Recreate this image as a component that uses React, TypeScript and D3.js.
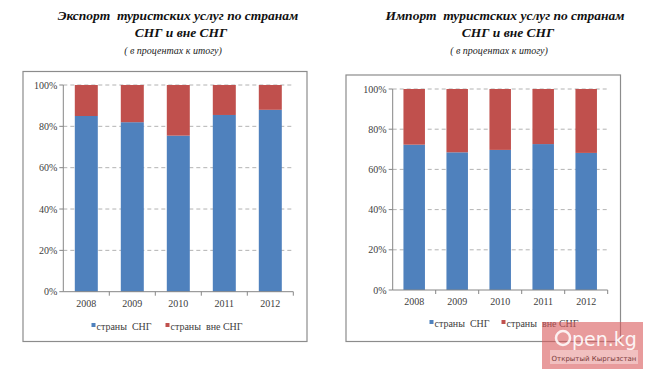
import React from "react";
import * as d3 from "d3";

const years = ["2008", "2009", "2010", "2011", "2012"];
const exportCIS = [85, 82, 75.5, 85.5, 88];
const exportNonCIS = [15, 18, 24.5, 14.5, 12];
const importCIS = [72.3, 68.5, 69.7, 72.6, 68.2];
const importNonCIS = [27.7, 31.5, 30.3, 27.4, 31.8];
const yTicks = [0, 20, 40, 60, 80, 100];
const seriesNames = ["страны  СНГ", "страны  вне СНГ"];
const colors = ["#4F81BD", "#C0504D"];

type PanelProps = {
  box: [number, number, number, number];
  plot: [number, number, number, number];
  title1: string;
  title2: string;
  sub: string;
  titleX: number;
  subX: number;
  cis: number[];
  non: number[];
  legendX: number;
  legendY: number;
  legendGap: number;
};

const serif = "Liberation Serif, Times New Roman, DejaVu Serif, serif";
const pre: React.CSSProperties = { whiteSpace: "pre" };

function Panel(p: PanelProps) {
  const [px0, py0, px1, py1] = p.plot;
  const x = d3.scaleBand<string>().domain(years).range([px0, px1]).paddingInner(0.5).paddingOuter(0.25);
  const y = d3.scaleLinear().domain([0, 100]).range([py1, py0]);
  const stackData = years.map((yr, i) => ({ year: yr, a: p.cis[i], b: p.non[i] }));
  const stack = d3.stack<any>().keys(["a", "b"])(stackData);
  const step = x.step();
  return (
    <g>
      <text x={p.titleX} y={20} textAnchor="middle" style={pre} fontFamily={serif} fontWeight="bold" fontStyle="italic" fontSize={13.5} fill="#111">{p.title1}</text>
      <text x={p.titleX + 3} y={37} textAnchor="middle" fontFamily={serif} fontWeight="bold" fontStyle="italic" fontSize={13.5} fill="#111">{p.title2}</text>
      <text x={p.subX} y={54} textAnchor="middle" fontFamily={serif} fontStyle="italic" fontSize={10} fill="#222">{p.sub}</text>
      <rect x={p.box[0]} y={p.box[1]} width={p.box[2] - p.box[0]} height={p.box[3] - p.box[1]} fill="white" stroke="#8c8c8c" strokeWidth={1.2} />
      {yTicks.map((t) => (
        <g key={t}>
          {t > 0 && (
            <line x1={px0} x2={px1} y1={y(t)} y2={y(t)} stroke="#a0a0a0" strokeWidth={0.8} strokeDasharray="4,3" />
          )}
          <line x1={px0 - 4} x2={px0} y1={y(t)} y2={y(t)} stroke="#868686" strokeWidth={1} />
          <text x={px0 - 6} y={y(t) + 3.5} textAnchor="end" fontFamily={serif} fontSize={10} fill="#404040">{t}%</text>
        </g>
      ))}
      {stack.map((layer, li) => (
        <g key={li} fill={colors[li]}>
          {layer.map((d, i) => (
            <rect key={i} x={x(years[i])!} width={x.bandwidth()} y={y(d[1])} height={y(d[0]) - y(d[1])} />
          ))}
        </g>
      ))}
      <line x1={px0} x2={px0} y1={py0} y2={py1} stroke="#868686" strokeWidth={1} />
      <line x1={px0} x2={px1} y1={py1} y2={py1} stroke="#868686" strokeWidth={1} />
      {years.map((yr, i) => (
        <line key={"t" + i} x1={px0 + step * (i + 1)} x2={px0 + step * (i + 1)} y1={py1} y2={py1 + 4} stroke="#868686" />
      ))}
      {years.map((yr) => (
        <text key={yr} x={x(yr)! + x.bandwidth() / 2} y={py1 + 15} textAnchor="middle" fontFamily={serif} fontSize={10} fill="#404040">{yr}</text>
      ))}
      {seriesNames.map((n, i) => (
        <g key={n}>
          <rect x={p.legendX + i * p.legendGap} y={p.legendY - 7} width={4} height={4} fill={colors[i]} />
          <text x={p.legendX + i * p.legendGap + 5} y={p.legendY} style={pre} fontFamily={serif} fontSize={10} fill="#404040">{n}</text>
        </g>
      ))}
    </g>
  );
}

export default function App() {
  return (
    <svg width={650} height={377} style={{ position: "absolute", left: 0, top: 0, background: "white" }}>
      <rect width={650} height={377} fill="white" />
      <Panel
        box={[23, 71.5, 307, 341.5]}
        plot={[63.3, 85, 293.3, 291.7]}
        title1="Экспорт  туристских услуг по странам"
        title2="СНГ и вне СНГ"
        sub="( в процентах к итогу)"
        titleX={178}
        subX={173}
        cis={exportCIS}
        non={exportNonCIS}
        legendX={91.5}
        legendY={330}
        legendGap={74}
      />
      <Panel
        box={[346, 75, 620.5, 341.5]}
        plot={[392.7, 89, 607.7, 290]}
        title1="Импорт  туристских услуг по странам"
        title2="СНГ и вне СНГ"
        sub="( в процентах к итогу)"
        titleX={505}
        subX={499}
        cis={importCIS}
        non={importNonCIS}
        legendX={429.5}
        legendY={327}
        legendGap={72}
      />
      <g>
        <rect x={542} y={322} width={101} height={47} fill="#d9585a" opacity={0.6} />
        <circle cx={563} cy={338} r={7} fill="none" stroke="white" strokeWidth={2.5} opacity={0.85} />
        <text x={572} y={346} fontFamily="DejaVu Sans, sans-serif" fontSize={19} fill="white" opacity={0.9}>pen.kg</text>
        <rect x={550} y={350} width={88} height={14} fill="#f2c9c9" opacity={0.8} />
        <text x={594} y={360.5} textAnchor="middle" fontFamily="DejaVu Sans, sans-serif" fontSize={7} fill="#7a3a3a">Открытый Кыргызстан</text>
      </g>
    </svg>
  );
}
